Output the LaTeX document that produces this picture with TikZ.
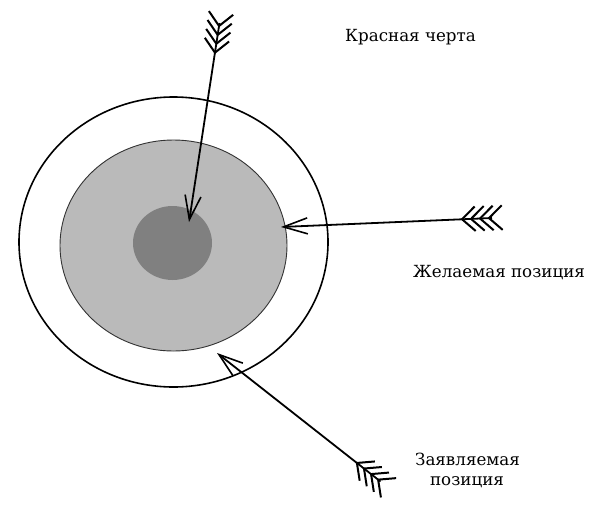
\documentclass[tikz,border=0pt]{standalone}
\usepackage{fontspec}
\setmainfont{DejaVu Serif}
\usetikzlibrary{arrows.meta,calc}
\begin{document}
\begin{tikzpicture}[x=1pt,y=-1pt,
  ring/.style={line width=1.6pt},
  shaft/.style={line width=1.8pt,-{Straight Barb[length=24pt,width=16pt,line width=1.6pt]}},
  feather/.style={line width=2pt},
  lbl/.style={font=\fontsize{16.7}{20}\selectfont, inner sep=0pt, anchor=base west}]
\useasboundingbox (0,0) rectangle (600,515);
\fill[white] (0,0) rectangle (600,515);
% target rings
\draw[ring] (173.5,242) ellipse [x radius=154.5, y radius=145];
\filldraw[fill=black!27, draw=black!80, line width=0.9pt] (173.5,245.5) ellipse [x radius=113.5, y radius=105.5];
\fill[black!50] (172.5,243) ellipse [x radius=39.5, y radius=37];
% arrows
\coordinate (t1) at (189,222);   \coordinate (n1) at (219.5,23);
\coordinate (t2) at (281,227);   \coordinate (n2) at (492,218);
\coordinate (t3) at (217,353);   \coordinate (n3) at (380.5,481.5);
\foreach \n/\t in {n1/t1,n2/t2,n3/t3}{
  \draw[shaft] (\n) -- (\t);
  \foreach \d in {3,12,21,30}{
    \path ($(\n)!\d pt!(\t)$) coordinate (a);
    \draw[feather] ($(a)!18pt!43:(\n)$) -- (a) -- ($(a)!18pt!-43:(\n)$);
  }
}
% labels
\node[lbl] (krasnaya) at (345,41) {Красная черта};
\node[lbl] (zhelaemaya) at (413,277) {Желаемая позиция};
\node[lbl,anchor=base] (zayav1) at (467.5,465) {Заявляемая};
\node[lbl,anchor=base] (zayav2) at (467,485) {позиция};
\end{tikzpicture}
\end{document}
